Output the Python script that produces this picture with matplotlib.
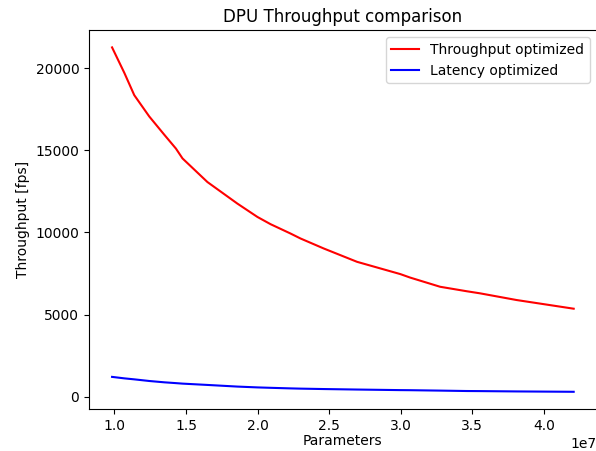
import numpy as np
import matplotlib
matplotlib.use("Agg")
import matplotlib.pyplot as plt

# parameter counts (model size)
params = np.array([0.984, 1.07, 1.139, 1.244, 1.348, 1.43, 1.476, 1.65, 1.859, 1.999,
                   2.091, 2.23, 2.30, 2.462, 2.695, 2.997, 3.066, 3.275, 3.461, 3.554,
                   3.809, 4.208]) * 1e7

# throughput optimized DPU config [fps]
thr_opt = [21256, 19700, 18350, 17050, 15950, 15100, 14500, 13064, 11754, 10941,
           10500, 9933, 9630, 9023, 8210, 7464, 7251, 6693, 6420, 6293,
           5886, 5358]

# latency optimized DPU config [fps]
lat_opt = [1210, 1120, 1060, 960, 880, 830, 800, 720, 620, 570,
           545, 510, 495, 470, 440, 405, 400, 375, 350, 345,
           325, 303]

plt.rcParams['font.size'] = 10

fig = plt.figure(figsize=(5.96, 4.51), dpi=100)
ax = fig.add_axes([0.1493, 0.0931, 0.852, 0.840])

ax.plot(params, thr_opt, color='red', linewidth=1.5, label='Throughput optimized')
ax.plot(params, lat_opt, color='blue', linewidth=1.5, label='Latency optimized')

ax.set_title('DPU Throughput comparison', fontsize=12)
ax.set_xlabel('Parameters', labelpad=1)
ax.set_ylabel('Throughput [fps]')
ax.legend(loc='upper right')

plt.savefig('out.png', dpi=100)
